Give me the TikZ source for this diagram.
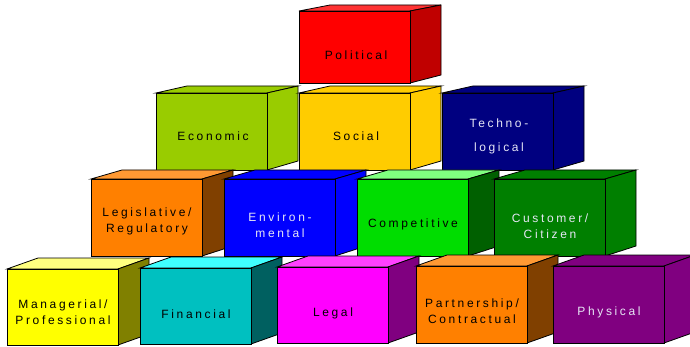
\documentclass[tikz,border=0pt]{standalone}
\usepackage{fontspec}
\newfontfamily\lblfont[LetterSpace=22]{Liberation Sans}
\definecolor{polF}{HTML}{FF0000}\definecolor{polT}{HTML}{FF3333}\definecolor{polS}{HTML}{C00000}
\definecolor{ecoF}{HTML}{99CC00}
\definecolor{socF}{HTML}{FFCC00}
\definecolor{tecF}{HTML}{000080}
\definecolor{orgF}{HTML}{FF8000}\definecolor{orgT}{HTML}{FF9933}\definecolor{orgS}{HTML}{804000}
\definecolor{envF}{HTML}{0000FF}
\definecolor{comF}{HTML}{00DD00}\definecolor{comT}{HTML}{80FF80}\definecolor{comS}{HTML}{006000}
\definecolor{cusF}{HTML}{007F00}
\definecolor{manF}{HTML}{FFFF00}\definecolor{manT}{HTML}{FFFF80}\definecolor{manS}{HTML}{808000}
\definecolor{finF}{HTML}{00C0C0}\definecolor{finT}{HTML}{40FFFF}\definecolor{finS}{HTML}{006060}
\definecolor{legF}{HTML}{FF00FF}\definecolor{legT}{HTML}{FF40FF}\definecolor{legS}{HTML}{800080}
\definecolor{phyF}{HTML}{800080}
\definecolor{lightTxt}{RGB}{230,230,245}
\newcommand{\cw}{111}
\newcommand{\cdx}{31}
% #1 x, #2 y, #3 h, #4 front, #5 top, #6 side, #7 dy top, #8 dy bottom
\newcommand{\drawcube}[8]{%
  \filldraw[facestyle, fill=#5] (#1,#2) -- (#1+\cdx,#2+#7) -- (#1+\cw+\cdx,#2+#7) -- (#1+\cw,#2) -- cycle;
  \filldraw[facestyle, fill=#6] (#1+\cw,#2) -- (#1+\cw+\cdx,#2+#7) -- (#1+\cw+\cdx,#2+#3+#8) -- (#1+\cw,#2+#3) -- cycle;
  \filldraw[facestyle, fill=#4] (#1,#2) rectangle (#1+\cw,#2+#3);
}
\begin{document}
\begin{tikzpicture}[x=1pt,y=-1pt,
  facestyle/.style={draw=black, line width=0.8pt, line join=miter},
  lbl/.style={inner sep=0pt, align=center, anchor=center, font=\lblfont\fontsize{12}{16}\selectfont},
  darklbl/.style={lbl, text=lightTxt}]
\useasboundingbox (0,0) rectangle (690,347);
\clip (0,0) rectangle (690,347);
% row 1
\drawcube{299}{11}{72}{polF}{polT}{polS}{-6}{-8}
\node[lbl] (political) at (356,55) {Political};
% row 2
\drawcube{156}{93}{77}{ecoF}{ecoF}{ecoF}{-7}{-9}
\node[lbl] (economic) at (213,136) {Economic};
\drawcube{299}{93}{77}{socF}{socF}{socF}{-7}{-9}
\node[lbl] (social) at (356,136) {Social};
\drawcube{442}{93}{77}{tecF}{tecF}{tecF}{-7}{-9}
\node[darklbl] (techno) at (499,136) {Techno-\\[8pt]logical};
% row 3
\drawcube{91}{179}{77}{orgF}{orgT}{orgS}{-9}{-10}
\node[lbl] (legis) at (147,221) {Legislative/\\Regulatory};
\drawcube{224}{179}{77}{envF}{envF}{envF}{-9}{-10}
\node[darklbl] (environ) at (280,225) {Environ-\\mental};
\drawcube{357}{179}{77}{comF}{comT}{comS}{-9}{-10}
\node[lbl] (compet) at (413,224) {Competitive};
\drawcube{494}{179}{77}{cusF}{cusF}{cusF}{-9}{-10}
\node[darklbl] (customer) at (550,226) {Customer/\\Citizen};
% row 4
\drawcube{7}{269}{76}{manF}{manT}{manS}{-11}{-11}
\node[lbl] (manag) at (63,312) {Managerial/\\Professional};
\drawcube{140}{268}{76}{finF}{finT}{finS}{-11}{-11}
\node[lbl] (financial) at (196,314) {Financial};
\drawcube{277}{267}{76}{legF}{legT}{legS}{-11}{-11}
\node[lbl] (legal) at (333,313) {Legal};
\drawcube{416}{266}{77}{orgF}{orgT}{orgS}{-11}{-11}
\node[lbl] (partner) at (472,311) {Partnership/\\Contractual};
\drawcube{553}{266}{77}{phyF}{phyF}{phyF}{-11}{-11}
\node[darklbl] (physical) at (609,312) {Physical};
\end{tikzpicture}
\end{document}
